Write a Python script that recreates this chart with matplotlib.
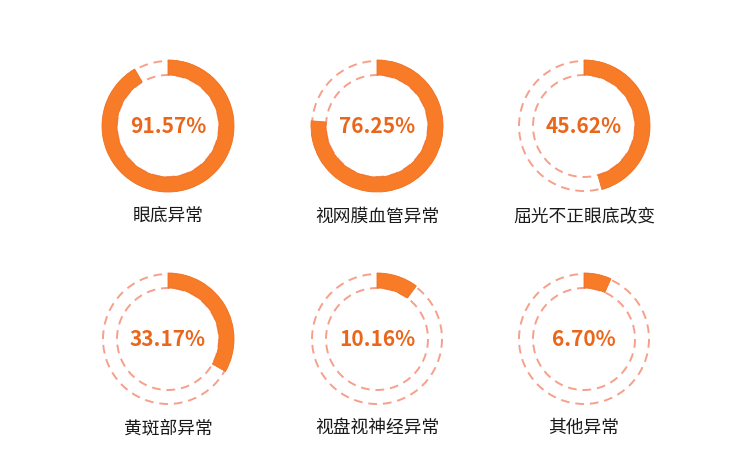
import matplotlib
matplotlib.use('Agg')
import matplotlib.pyplot as plt
from matplotlib.patches import Wedge, Arc

plt.rcParams['font.family'] = ['Noto Sans CJK SC', 'DejaVu Sans']

# Data
names = ['眼底异常', '视网膜血管异常', '屈光不正眼底改变',
         '黄斑部异常', '视盘视神经异常', '其他异常']
values = [91.57, 76.25, 45.62, 33.17, 10.16, 6.70]

# Layout (pixel coords)
col_x = [168, 377, 584]
row_y = [126, 339]
label_y = [217, 428]
r_out = 66
width = 15

fill_color = '#f87c28'
text_color = '#ea661a'
dash_color = '#f6a08c'

fig = plt.figure(figsize=(7.5, 4.65), dpi=100)
ax = fig.add_axes([0, 0, 1, 1])
ax.set_xlim(0, 750)
ax.set_ylim(465, 0)
ax.set_aspect('equal')
ax.axis('off')

for i, (name, val) in enumerate(zip(names, values)):
    cx = col_x[i % 3]
    cy = row_y[i // 3]
    # dashed background rings (y axis inverted -> angles mirrored)
    for r in (r_out - 1, r_out - width):
        ax.add_patch(Arc((cx, cy), 2 * r, 2 * r, theta1=0, theta2=360,
                         color=dash_color, lw=1.4, linestyle=(0, (4.5, 3))))
    # filled arc, clockwise from the top
    ang = 360 * val / 100
    ax.add_patch(Wedge((cx, cy), r_out, 270, 270 + ang, width=width,
                       facecolor=fill_color, edgecolor='#f07020', lw=0.6))
    ax.text(cx, cy, f'{val:.2f}%', ha='center', va='center',
            fontsize=15, fontweight='bold', color=text_color)
    ax.text(cx, label_y[i // 3], name, ha='center', va='center',
            fontsize=12.8, color='#1a1a1a')

fig.savefig('out.png', dpi=100)
